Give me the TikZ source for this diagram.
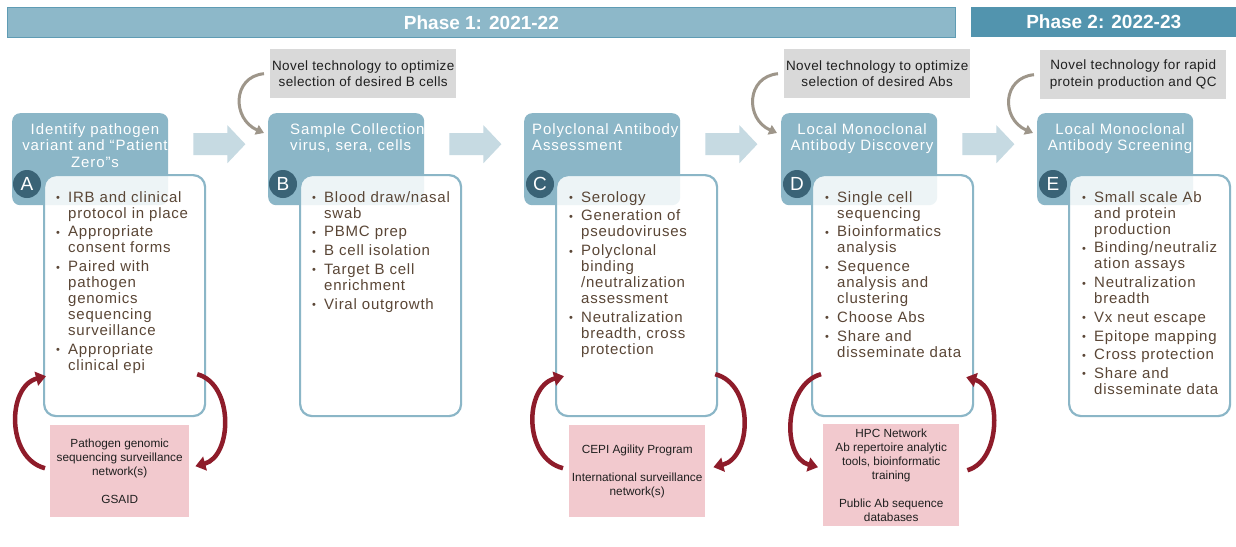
\documentclass[tikz,border=0pt]{standalone}
\usepackage{fontspec}
\setmainfont{Liberation Sans}
\newfontfamily\hdfont{Liberation Sans}[LetterSpace=6]
\newfontfamily\bodyfont{Liberation Sans}[LetterSpace=5]
\newfontfamily\notefont{Liberation Sans}[LetterSpace=3]
\usetikzlibrary{arrows.meta}

\definecolor{phOne}{HTML}{8DB8C9}
\definecolor{phOneEdge}{HTML}{5F9CB4}
\definecolor{phTwo}{HTML}{5294AE}
\definecolor{hdrC}{HTML}{8BB6C7}
\definecolor{boxEdge}{HTML}{8BB6C7}
\definecolor{dotC}{HTML}{3A6376}
\definecolor{flowC}{HTML}{C6DAE2}
\definecolor{noteC}{HTML}{D9D9D9}
\definecolor{noteArr}{HTML}{9E968A}
\definecolor{pinkC}{HTML}{F2C9CE}
\definecolor{redC}{HTML}{8E1C2A}
\definecolor{bodyC}{HTML}{5A4636}

% one bullet point with a hanging indent
\newcommand\bitem[1]{\par\hangindent=12pt\hangafter=1\noindent
  \hbox to 12pt{\raisebox{0.5pt}{\fontsize{11}{11}\selectfont\textbullet}\hss}#1\par\vspace{2.7pt}}

% wide block arrow placed to the right of a stage header
\newcommand\flowarrow[1]{\fill[flow] ([shift={(25,-26)}]#1.east) -- ++(34,0) -- ++(0,-8)
  -- ++(18,19) -- ++(-18,19) -- ++(0,-8) -- ++(-34,0) -- cycle;}

\begin{document}
\begin{tikzpicture}[x=1pt,y=-1pt,
  phasebar/.style={inner sep=0, anchor=north west, minimum height=30pt, text=white,
    font=\fontsize{19}{22}\selectfont\bfseries},
  hdr/.style={fill=hdrC, rounded corners=8pt, minimum width=156pt, minimum height=92pt,
    inner sep=0, anchor=north west},
  hdrtxt/.style={text=white, font=\hdfont\fontsize{15}{16.5}\selectfont, inner sep=0},
  bbox/.style={draw=boxEdge, line width=2.2pt, fill=white, fill opacity=0.85,
    rounded corners=12pt, minimum width=161pt, minimum height=241pt, inner sep=0,
    anchor=north west},
  circ/.style={circle, fill=dotC, minimum size=28pt, inner sep=0, text=white,
    font=\fontsize{19}{19}\selectfont},
  btxt/.style={anchor=north west, inner sep=0, text width=160pt, align=left, text=bodyC,
    font=\bodyfont\fontsize{15}{16}\selectfont},
  flow/.style={fill=flowC},
  note/.style={fill=noteC, minimum width=186pt, minimum height=49pt, inner sep=0,
    anchor=north west, align=center, font=\notefont\fontsize{13.5}{16.5}\selectfont,
    text=black!88},
  noteArrow/.style={draw=noteArr, line width=3pt, -{Triangle[length=8pt,width=10pt]}},
  pink/.style={fill=pinkC, inner sep=0, anchor=north west, align=center,
    font=\fontsize{11.8}{14}\selectfont, text=black!88},
  redArrow/.style={draw=redC, line width=4.5pt, -{Triangle[length=10pt,width=14pt]}}
]
\useasboundingbox (0,0) rectangle (1236,546);
\fill[white] (0,0) rectangle (1236,546);

% phase banners
\node[phasebar, fill=phOne, draw=phOneEdge, line width=0.8pt, minimum width=948pt] (ph1) at (7,7) {Phase 1: 2021-22};
\node[phasebar, fill=phTwo, minimum width=265pt] (ph2) at (971,7) {Phase 2: 2022-23};

% technology notes
\node[note] (g1) at (270,49) {Novel technology to optimize\\selection of desired B cells};
\node[note] (g2) at (784,49) {Novel technology to optimize\\selection of desired Abs};
\node[note] (g3) at (1040,50) {Novel technology for rapid\\protein production and QC};

% stage headers
\node[hdr] (hA) at (12,113) {};
\node[hdr] (hB) at (268,113) {};
\node[hdr] (hC) at (524,113) {};
\node[hdr] (hD) at (781,113) {};
\node[hdr] (hE) at (1037,113) {};

\node[hdrtxt, anchor=north, align=center] (tA) at (95,123) {Identify pathogen\\variant and “Patient\\Zero”s};
\node[hdrtxt, anchor=north west, align=left] (tB) at (290,123) {Sample Collection\\virus, sera, cells};
\node[hdrtxt, anchor=north west, align=left] (tC) at (532,123) {Polyclonal Antibody\\Assessment};
\node[hdrtxt, anchor=north, align=center] (tD) at (862,123) {Local Monoclonal\\Antibody Discovery};
\node[hdrtxt, anchor=north, align=center] (tE) at (1120,123) {Local Monoclonal\\Antibody Screening};

% arrows from the notes to the stages
\draw[noteArrow] ([shift={(-6,0)}]g1.west) .. controls +(-32,3) and +(-32,-14) .. ([shift={(-4,20)}]hB.north west);
\draw[noteArrow] ([shift={(-6,0)}]g2.west) .. controls +(-32,3) and +(-32,-14) .. ([shift={(-4,20)}]hD.north west);
\draw[noteArrow] ([shift={(-6,0)}]g3.west) .. controls +(-32,3) and +(-32,-14) .. ([shift={(-4,20)}]hE.north west);

% flow between stages
\flowarrow{hA}
\flowarrow{hB}
\flowarrow{hC}
\flowarrow{hD}

% activity boxes
\node[bbox] (bA) at (43,174) {};
\node[bbox] (bB) at (299,174) {};
\node[bbox] (bC) at (555,174) {};
\node[bbox] (bD) at (811,174) {};
\node[bbox] (bE) at (1068,174) {};

% stage letters
\node[circ] (cA) at (27,184) {A};
\node[circ] (cB) at (283,184) {B};
\node[circ] (cC) at (540,184) {C};
\node[circ] (cD) at (797,184) {D};
\node[circ] (cE) at (1053,184) {E};

% activity lists
\node[btxt] (lA) at (56,186) {%
  \bitem{IRB and clinical\newline protocol in place}%
  \bitem{Appropriate\newline consent forms}%
  \bitem{Paired with\newline pathogen\newline genomics\newline sequencing\newline surveillance}%
  \bitem{Appropriate\newline clinical epi}};
\node[btxt] (lB) at (312,186) {%
  \bitem{Blood draw/nasal\newline swab}%
  \bitem{PBMC prep}%
  \bitem{B cell isolation}%
  \bitem{Target B cell\newline enrichment}%
  \bitem{Viral outgrowth}};
\node[btxt] (lC) at (569,186) {%
  \bitem{Serology}%
  \bitem{Generation of\newline pseudoviruses}%
  \bitem{Polyclonal\newline binding\newline /neutralization\newline assessment}%
  \bitem{Neutralization\newline breadth, cross\newline protection}};
\node[btxt] (lD) at (825,186) {%
  \bitem{Single cell\newline sequencing}%
  \bitem{Bioinformatics\newline analysis}%
  \bitem{Sequence\newline analysis and\newline clustering}%
  \bitem{Choose Abs}%
  \bitem{Share and\newline disseminate data}};
\node[btxt] (lE) at (1082,186) {%
  \bitem{Small scale Ab\newline and protein\newline production}%
  \bitem{Binding/neutraliz\newline ation assays}%
  \bitem{Neutralization\newline breadth}%
  \bitem{Vx neut escape}%
  \bitem{Epitope mapping}%
  \bitem{Cross protection}%
  \bitem{Share and\newline disseminate data}};

% supporting resources
\node[pink, minimum width=139pt, minimum height=92pt] (pA) at (50,425)
  {Pathogen genomic\\sequencing surveillance\\network(s)\\[14pt]GSAID};
\node[pink, minimum width=136pt, minimum height=92pt] (pC) at (569,425)
  {CEPI Agility Program\\[14pt]International surveillance\\network(s)};
\node[pink, minimum width=136pt, minimum height=102pt] (pD) at (823,424)
  {HPC Network\\Ab repertoire analytic\\tools, bioinformatic\\training\\[14pt]Public Ab sequence\\databases};

% exchange between resources and activities
\draw[redArrow] ([shift={(-5,-3)}]pA.west) .. controls +(-39,-10) and +(-39,10) .. ([shift={(3,-41)}]bA.south west);
\draw[redArrow] ([shift={(-9,-43)}]bA.south east) .. controls +(37,10) and +(37,-10) .. ([shift={(6,-5)}]pA.east);
\draw[redArrow] ([shift={(-6,-3)}]pC.west) .. controls +(-40,-10) and +(-40,10) .. ([shift={(9,-41)}]bC.south west);
\draw[redArrow] ([shift={(-3,-43)}]bC.south east) .. controls +(39,10) and +(39,-10) .. ([shift={(8,-4)}]pC.east);
\draw[redArrow] ([shift={(10,-43)}]bD.south west) .. controls +(-37,10) and +(-37,-10) .. ([shift={(-5,-8)}]pD.west);
\draw[redArrow] ([shift={(8,-5)}]pD.east) .. controls +(35,-10) and +(35,10) .. ([shift={(-8,-40)}]bD.south east);
\end{tikzpicture}
\end{document}
